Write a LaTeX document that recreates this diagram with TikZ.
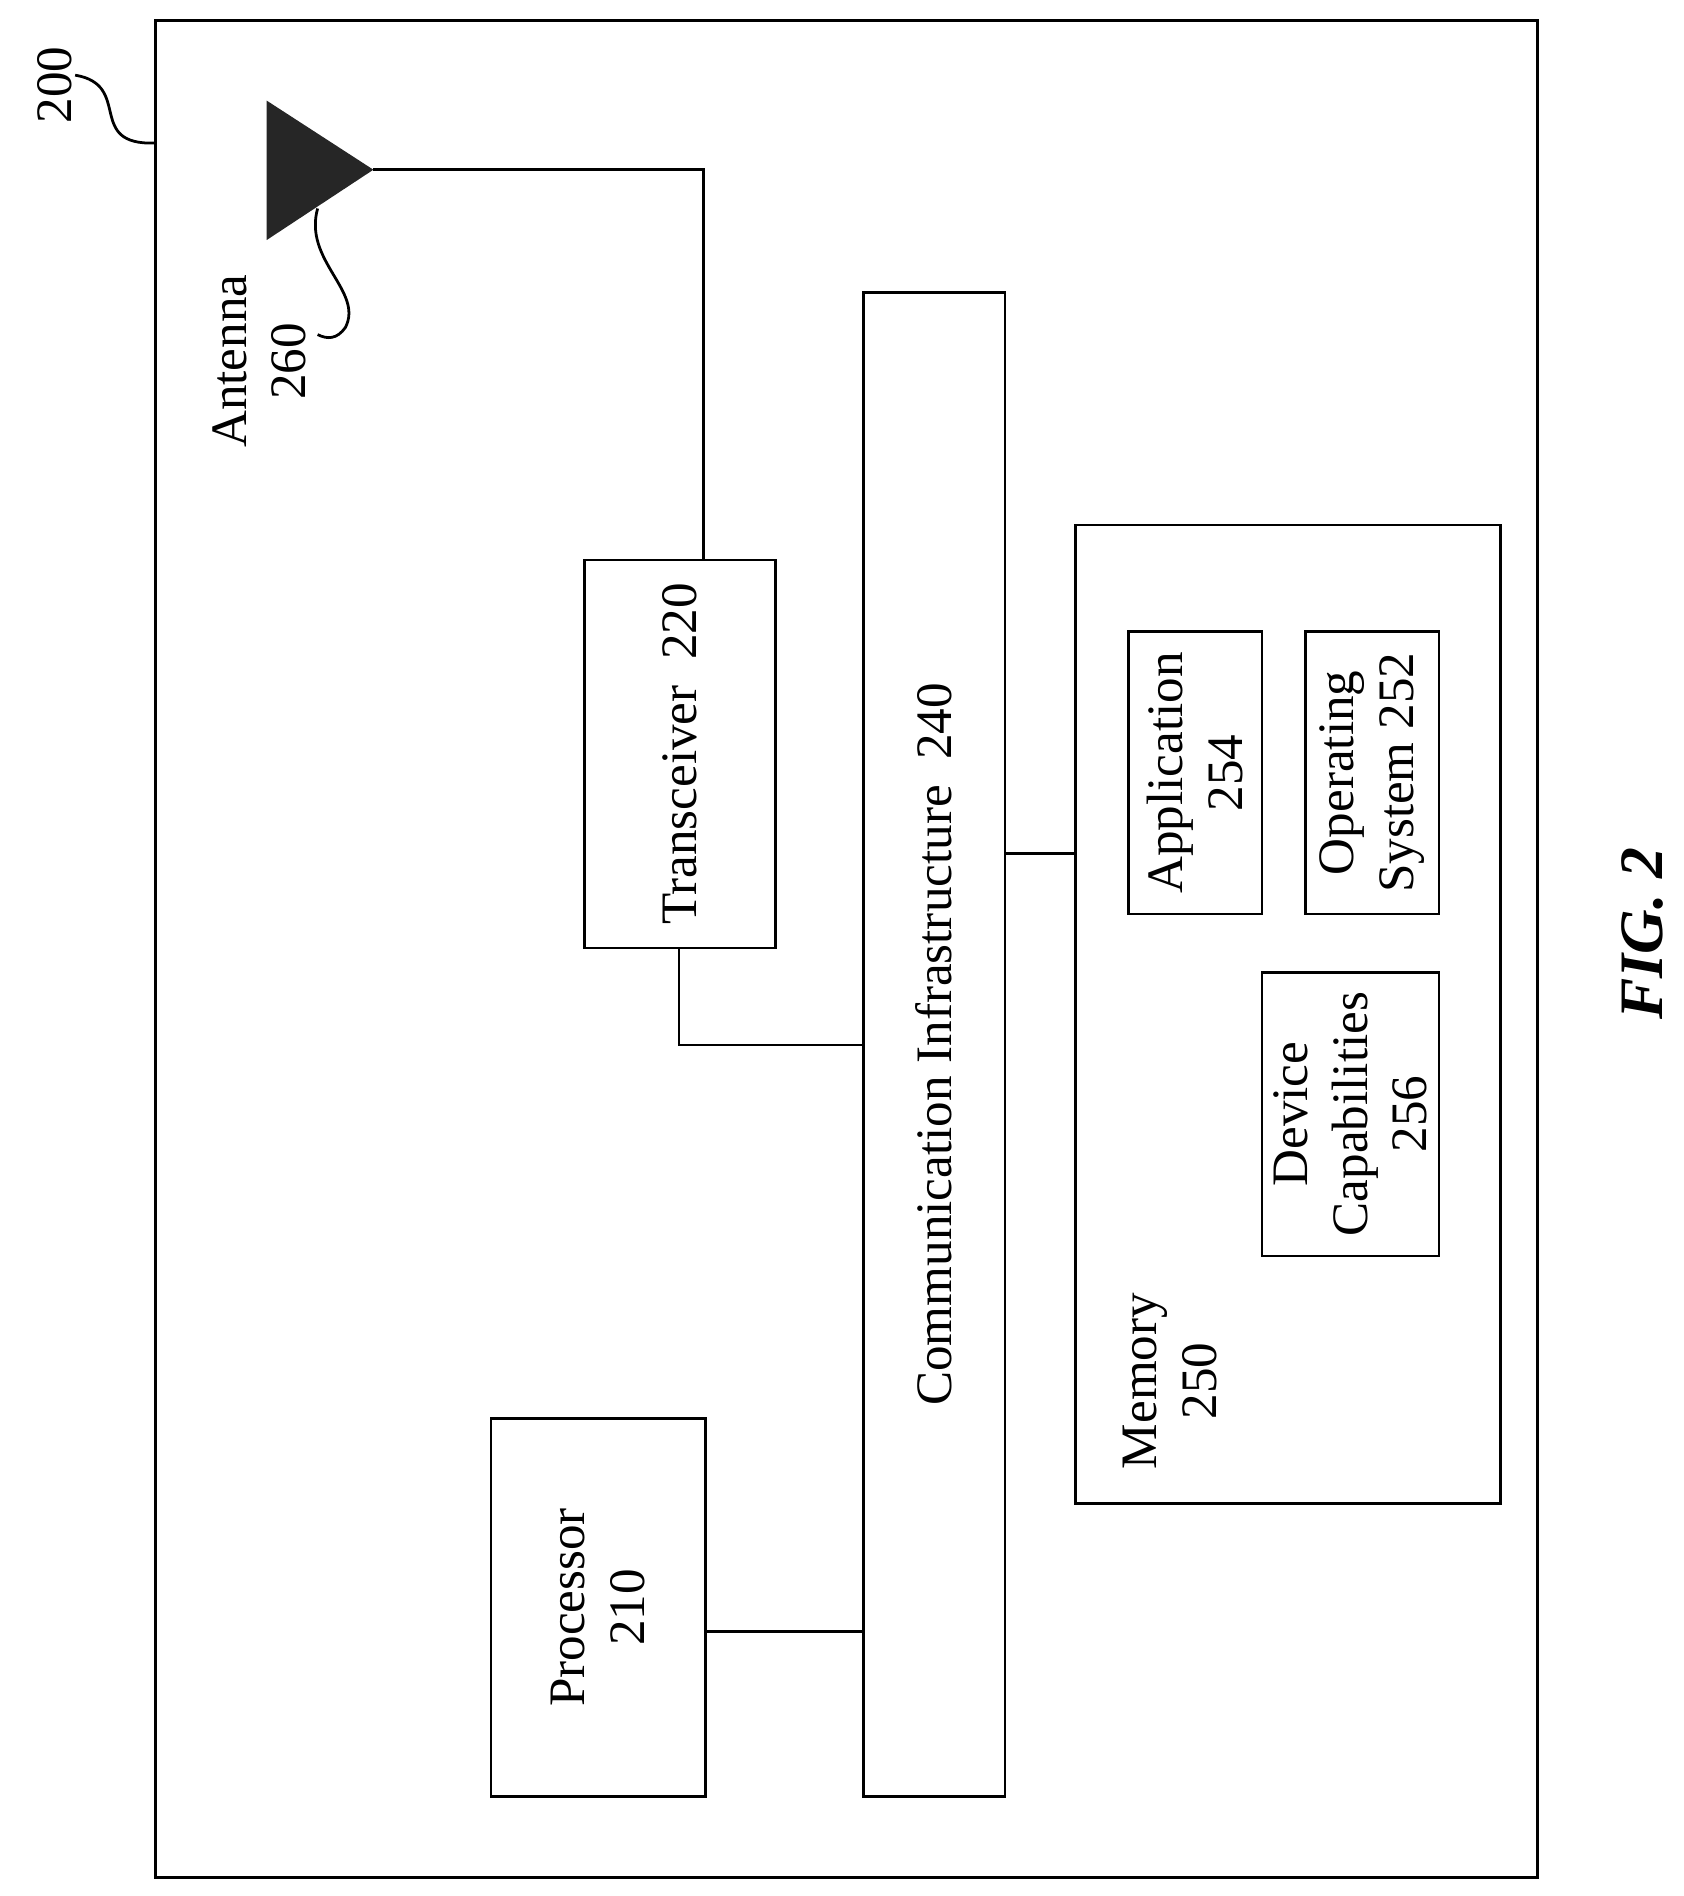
\documentclass[tikz,border=0pt]{standalone}
\usepackage{fontspec}
\setmainfont{Liberation Serif}
\begin{document}
\begin{tikzpicture}[x=0.02cm,y=-0.02cm,
  box/.style={draw,line width=1.3pt},
  wire/.style={line width=1.3pt},
  lbl/.style={rotate=90,align=center,font=\fontsize{24}{28}\selectfont}]
\useasboundingbox (0,0) rectangle (1389,1564);
\node[box,minimum width=1140*0.02cm,minimum height=1532*0.02cm,inner sep=0] (outer) at (698,783) {};
\node[lbl] (l200) at (45,70) {200};
\draw[wire] (62,62) .. controls (110,70) and (70,120) .. (128,118);
\fill[black!85] (220,83) -- (220,198) -- (308,140) -- cycle;
\coordinate (ant) at (308,140);
\node[lbl] (lant) at (214,298) {Antenna\\260};
\draw[wire] (262,172) .. controls (250,215) and (300,240) .. (285,270) .. controls (278,280) and (270,280) .. (262,276);
\node[box,minimum width=158*0.02cm,minimum height=320*0.02cm,inner sep=0] (tr) at (561,622) {};
\node[lbl] at (tr) {Transceiver\ \ 220};
\node[box,minimum width=117*0.02cm,minimum height=1241*0.02cm,inner sep=0] (ci) at (770.5,861.5) {};
\node[lbl] at (ci) {Communication Infrastructure\ \ 240};
\node[box,minimum width=177*0.02cm,minimum height=312*0.02cm,inner sep=0] (pr) at (493.5,1326) {};
\node[lbl] at (pr) {Processor\\210};
\node[box,minimum width=351*0.02cm,minimum height=807*0.02cm,inner sep=0] (mem) at (1062.5,836.5) {};
\node[lbl,anchor=south west] at (1010,1218) {Memory\\250};
\node[box,minimum width=110*0.02cm,minimum height=233*0.02cm,inner sep=0] (app) at (986,637.5) {};
\node[lbl] at (app) {Application\\254};
\node[box,minimum width=110*0.02cm,minimum height=233*0.02cm,inner sep=0] (os) at (1132,637.5) {};
\node[lbl] at (os) {Operating\\System 252};
\node[box,minimum width=146*0.02cm,minimum height=234*0.02cm,inner sep=0] (dc) at (1114,919) {};
\node[lbl] at (dc) {Device\\Capabilities\\256};
\node[lbl,font=\fontsize{29}{33}\selectfont\bfseries\itshape] (fig) at (1355,770) {FIG. 2};
\draw[wire] (ant) -- (580,140) -- (580,462);
\draw[wire] (560,782) -- (560,862) -- (712,862);
\draw[wire] (582,1346) -- (712,1346);
\draw[wire] (829,704) -- (887,704);
\end{tikzpicture}
\end{document}
